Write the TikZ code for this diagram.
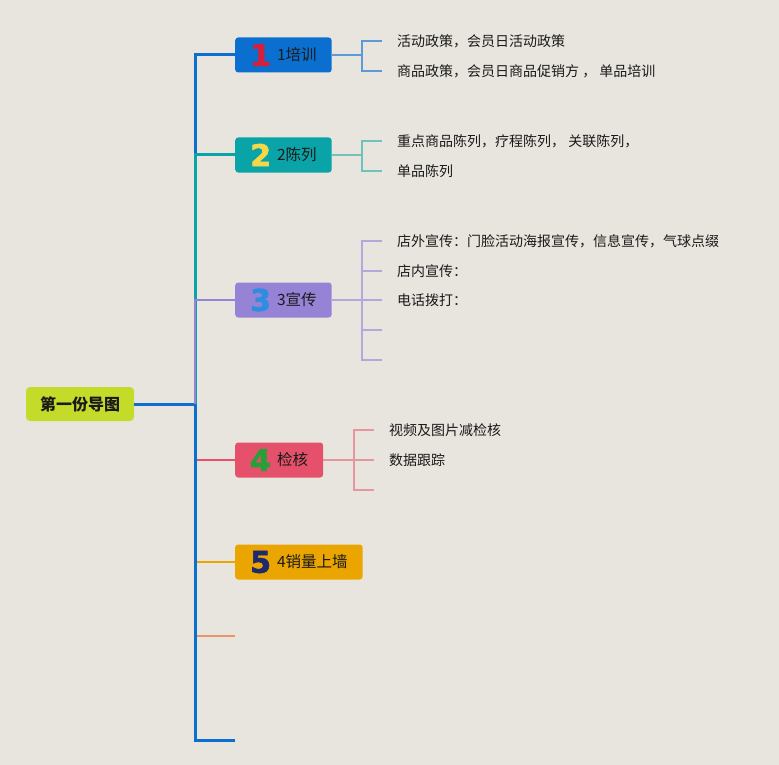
\documentclass[tikz,border=0pt]{standalone}
\usepackage{fontspec}
\setmainfont{Noto Sans CJK SC}
\newfontfamily\numfont{DejaVu Sans Bold}[FakeBold=2]
\usepackage{xcolor}
\usepackage{tikz}
\usetikzlibrary{positioning}

\definecolor{bgc}{HTML}{E8E5DE}
\definecolor{rootc}{HTML}{C5DB2A}
\definecolor{c1}{HTML}{0B6FCF}
\definecolor{c2}{HTML}{0AA3A8}
\definecolor{c3}{HTML}{9683D6}
\definecolor{c4}{HTML}{E5506A}
\definecolor{c5}{HTML}{EAA500}
\definecolor{c6}{HTML}{E8956A}
\definecolor{l1}{HTML}{5C9BD6}
\definecolor{l2}{HTML}{72C2BC}
\definecolor{l3}{HTML}{B3A7DB}
\definecolor{l4}{HTML}{E597A0}
\definecolor{n1}{HTML}{D4203A}
\definecolor{n2}{HTML}{F3D94A}
\definecolor{n3}{HTML}{2D8EE0}
\definecolor{n4}{HTML}{28A03A}
\definecolor{n5}{HTML}{1D2A6E}
\definecolor{txt}{HTML}{1A1A1A}

\newcommand{\bignum}[2]{\raisebox{-5.5pt}{\numfont\fontsize{30}{30}\selectfont\color{#1}#2}\hspace{6pt}}

\begin{document}
\begin{tikzpicture}[
  x=1pt, y=-1pt,
  rootbox/.style={fill=rootc, rounded corners=4pt, minimum width=108pt, minimum height=34pt, font=\fontsize{16}{16}\selectfont\bfseries, text=txt},
  topic/.style={rounded corners=3pt, anchor=west, minimum height=35pt, inner xsep=15pt, inner ysep=0pt, font=\fontsize{15.5}{15.5}\selectfont, text=txt},
  leaf/.style={anchor=west, inner xsep=15pt, inner ysep=0pt, font=\fontsize{14}{14}\selectfont, text=txt},
  brn/.style={line width=3pt},
  thinbrn/.style={line width=2.2pt},
  sub/.style={line width=1.8pt}
]
% background
\fill[bgc] (0,0) rectangle (779,765);

% root and topics
\node[rootbox] (root) at (80,404) {第一份导图};
\coordinate (trunk) at (195,404);
\node[topic, fill=c1] (t1) at (235,55) {\bignum{n1}{1}1培训};
\node[topic, fill=c2] (t2) at (235,155) {\bignum{n2}{2}2陈列};
\node[topic, fill=c3] (t3) at (235,300) {\bignum{n3}{3}3宣传};
\node[topic, fill=c4] (t4) at (235,460) {\bignum{n4}{4}检核};
\node[topic, fill=c5] (t5) at (235,562) {\bignum{n5}{5}4销量上墙};
\coordinate (e6) at (235,636);
\coordinate (e7) at (235,740);

% trunk lines
\draw[brn, c1] (root.east) -- (trunk);
\draw[brn, c1] (trunk) |- (t1.west);
\draw[brn, c2] (trunk) |- (t2.west);
\draw[thinbrn, c3] (trunk) |- (t3.west);
\draw[thinbrn, c4] (trunk) |- (t4.west);
\draw[thinbrn, c5] (trunk) |- (t5.west);
\draw[thinbrn, c6] (trunk) |- (e6);
\draw[brn, c1] (trunk) |- (e7);

% 1 培训
\node[leaf] (s11) at (382,41) {活动政策，会员日活动政策};
\node[leaf] (s12) at (382,71) {商品政策，会员日商品促销方 ， 单品培训};
\coordinate (k1) at (362,55);
\draw[sub, l1] (t1.east) -- (k1);
\draw[sub, l1] (k1) |- (s11.west);
\draw[sub, l1] (k1) |- (s12.west);

% 2 陈列
\node[leaf] (s21) at (382,141) {重点商品陈列，疗程陈列， 关联陈列，};
\node[leaf] (s22) at (382,171) {单品陈列};
\coordinate (k2) at (362,155);
\draw[sub, l2] (t2.east) -- (k2);
\draw[sub, l2] (k2) |- (s21.west);
\draw[sub, l2] (k2) |- (s22.west);

% 3 宣传
\node[leaf] (s31) at (382,241) {店外宣传：门脸活动海报宣传，信息宣传，气球点缀};
\node[leaf] (s32) at (382,271) {店内宣传：};
\node[leaf] (s33) at (382,300) {电话拨打：};
\coordinate (s34) at (382,330);
\coordinate (s35) at (382,360);
\coordinate (k3) at (362,300);
\draw[sub, l3] (t3.east) -- (k3);
\draw[sub, l3] (k3) |- (s31.west);
\draw[sub, l3] (k3) |- (s32.west);
\draw[sub, l3] (k3) |- (s33.west);
\draw[sub, l3] (k3) |- (s34);
\draw[sub, l3] (k3) |- (s35);

% 4 检核
\node[leaf] (s41) at (374,430) {视频及图片减检核};
\node[leaf] (s42) at (374,460) {数据跟踪};
\coordinate (s43) at (374,490);
\coordinate (k4) at (354,460);
\draw[sub, l4] (t4.east) -- (k4);
\draw[sub, l4] (k4) |- (s41.west);
\draw[sub, l4] (k4) |- (s42.west);
\draw[sub, l4] (k4) |- (s43);
\end{tikzpicture}
\end{document}
